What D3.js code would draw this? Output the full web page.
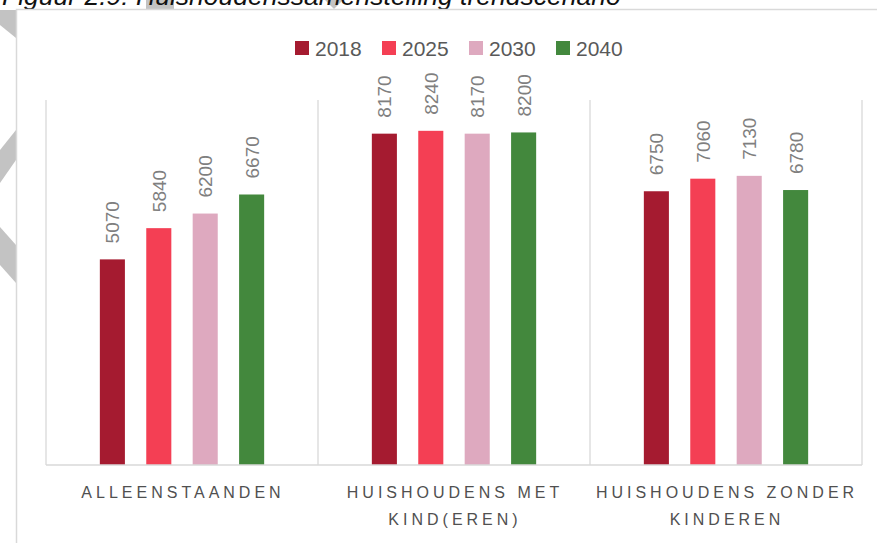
<!DOCTYPE html>
<html lang="nl">
<head>
    <meta charset="UTF-8">
    <title>Huishoudenssamenstelling trendscenario</title>
    <script src="https://d3js.org/d3.v7.min.js"></script>
    <style>
        body { margin: 0; background: #fff; }
        svg { display: block; font-family: "Liberation Sans", Arial, sans-serif; }
        .legend text { font-size: 21px; fill: #595959; }
        .label { font-size: 19px; fill: #7f7f7f; }
        .cat { font-size: 16px; fill: #505050; letter-spacing: 4px; }
        .grid { stroke: #d9d9d9; stroke-width: 1.3; }
    </style>
</head>
<body>
<div id="chart"></div>
<script>
    // data
    const categories = ["ALLEENSTAANDEN", "HUISHOUDENS MET KIND(EREN)", "HUISHOUDENS ZONDER KINDEREN"];
    const categoryLines = [["ALLEENSTAANDEN"], ["HUISHOUDENS MET", "KIND(EREN)"], ["HUISHOUDENS ZONDER", "KINDEREN"]];
    const years = ["2018", "2025", "2030", "2040"];
    const values2018 = [5070, 8170, 6750];
    const values2025 = [5840, 8240, 7060];
    const values2030 = [6200, 8170, 7130];
    const values2040 = [6670, 8200, 6780];
    const colors = ["#a51b30", "#f43f54", "#dea9bf", "#43883d"];

    const series = [values2018, values2025, values2030, values2040];
    const rows = [];
    categories.forEach((c, i) => {
        years.forEach((yr, j) => rows.push({ cat: c, year: yr, value: series[j][i] }));
    });

    const W = 877, H = 543;
    const svg = d3.select("#chart").append("svg")
        .attr("width", W).attr("height", H);

    // grey page decorations (behind the title)
    const deco = [
        [[0, 10], [16, 10], [16, 38], [0, 25]],
        [[16, 130], [16, 160], [0, 183], [0, 150]],
        [[0, 227], [16, 245], [16, 283], [0, 265]],
        [[146, 0], [174, 0], [174, 10], [146, 10]],
        [[325, 0], [343, 0], [334, 9]]
    ];
    svg.selectAll(".deco").data(deco).enter().append("polygon")
        .attr("points", d => d.map(p => p.join(",")).join(" "))
        .attr("fill", "#c3c3c3");

    // page title, cut off at the top like in the source
    svg.append("text")
        .attr("x", 2).attr("y", 5)
        .style("font-size", "26.5px").style("font-style", "italic").style("fill", "#111")
        .text("Figuur 2.9: Huishoudenssamenstelling trendscenario");

    // chart frame
    svg.append("rect")
        .attr("x", 16.5).attr("y", 9.5).attr("width", 900).attr("height", 600)
        .attr("fill", "none").attr("stroke", "#d9d9d9").attr("stroke-width", 1.5);

    const x0 = d3.scaleBand().domain(categories).range([46, 862]).padding(0);
    const x1 = d3.scaleBand().domain(years).range([0, x0.bandwidth()])
        .paddingInner(0.46).paddingOuter(1.16);
    const y = d3.scaleLinear().domain([0, 9000]).range([465, 100]);
    const color = d3.scaleOrdinal().domain(years).range(colors);

    // category separators
    const edges = categories.map(c => x0(c)).concat([x0.range()[1]]);
    svg.selectAll(".vgrid").data(edges).enter().append("line")
        .attr("class", "grid")
        .attr("x1", d => d).attr("x2", d => d)
        .attr("y1", y(9000)).attr("y2", y(0));

    // bars
    svg.selectAll(".bar").data(rows).enter().append("rect")
        .attr("x", d => x0(d.cat) + x1(d.year))
        .attr("y", d => y(d.value))
        .attr("width", x1.bandwidth())
        .attr("height", d => y(0) - y(d.value))
        .attr("fill", d => color(d.year));

    // value labels, rotated
    svg.selectAll(".label").data(rows).enter().append("text")
        .attr("class", "label")
        .attr("transform", d => `translate(${x0(d.cat) + x1(d.year) + x1.bandwidth() / 2 + 7},${y(d.value) - 16}) rotate(-90)`)
        .text(d => d.value);

    // x axis line
    svg.append("line").attr("class", "grid")
        .attr("x1", x0.range()[0]).attr("x2", x0.range()[1])
        .attr("y1", y(0)).attr("y2", y(0));

    // category labels
    const catG = svg.selectAll(".cat").data(categories).enter().append("text")
        .attr("class", "cat")
        .attr("text-anchor", "middle");
    catG.each(function (c, i) {
        d3.select(this).selectAll("tspan").data(categoryLines[i]).enter().append("tspan")
            .attr("x", x0(c) + x0.bandwidth() / 2 + 1)
            .attr("y", (d, k) => 498 + k * 27)
            .text(d => d);
    });

    // legend
    const legend = svg.append("g").attr("class", "legend")
        .selectAll("g").data(years).enter().append("g")
        .attr("transform", (d, i) => `translate(${295 + i * 87},41)`);
    legend.append("rect").attr("width", 14).attr("height", 14).attr("fill", d => color(d));
    legend.append("text").attr("x", 20).attr("y", 15).text(d => d);
</script>
</body>
</html>
